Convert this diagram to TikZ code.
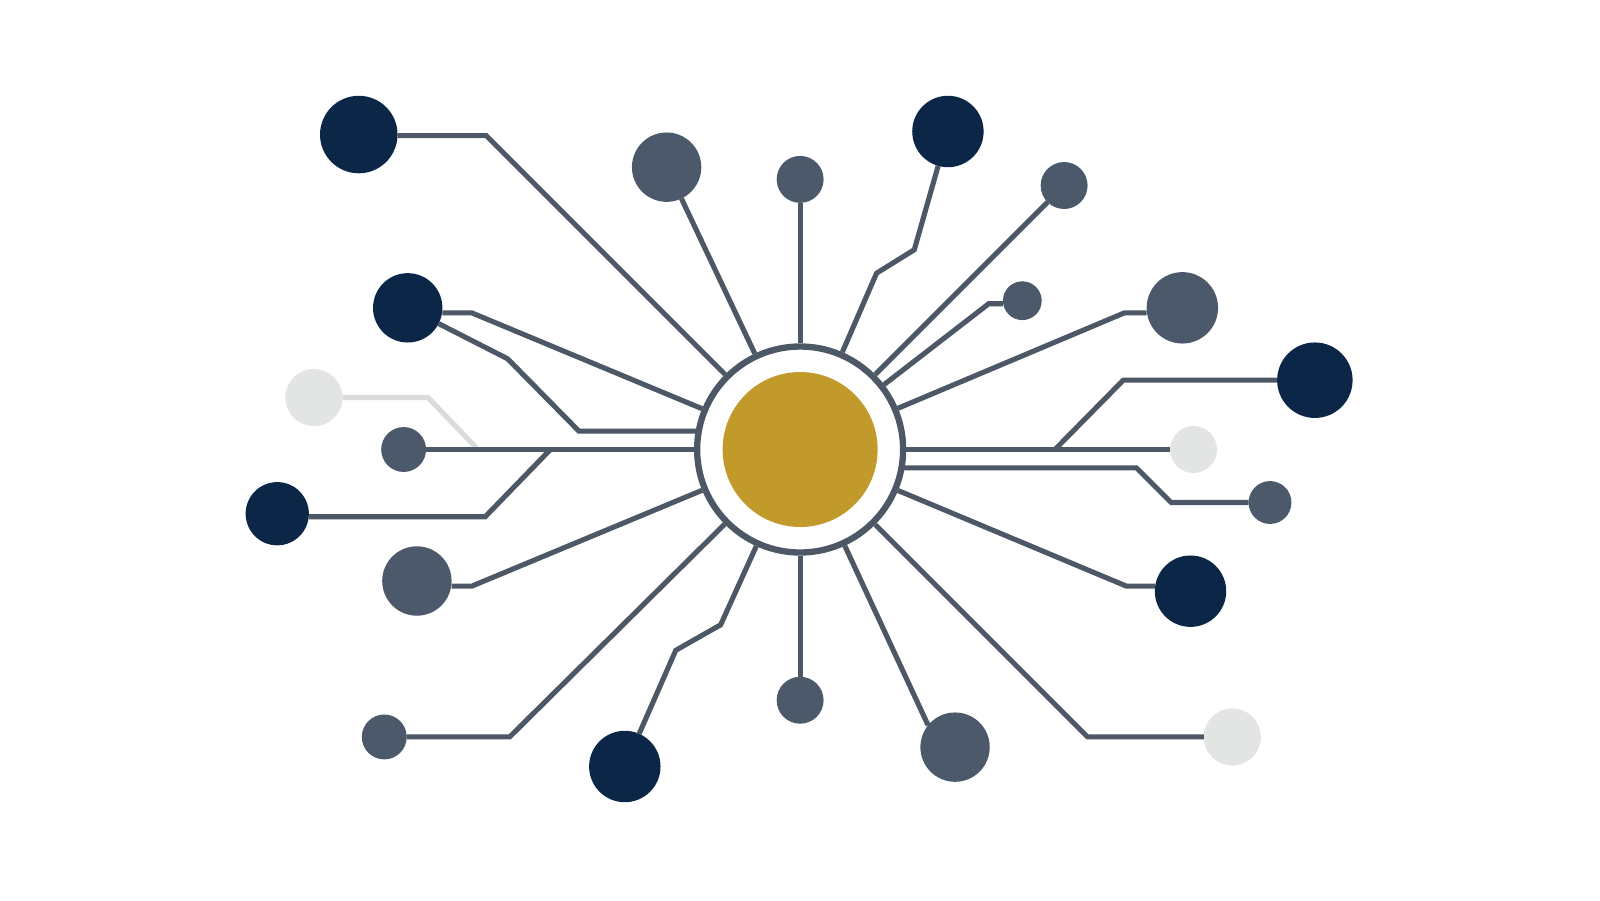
\documentclass[tikz,border=0pt]{standalone}
\usetikzlibrary{calc}
\definecolor{navyc}{HTML}{0C2648}
\definecolor{slatec}{HTML}{4B596A}
\definecolor{linec}{HTML}{4D5866}
\definecolor{lightc}{HTML}{E3E5E5}
\definecolor{lightl}{HTML}{DADCDC}
\definecolor{goldc}{HTML}{C29A2C}
\tikzset{
  bub/.style={circle, inner sep=0pt, outer sep=0pt, minimum size=#1*0.0204cm},
  navyb/.style={bub=#1, fill=navyc},
  slateb/.style={bub=#1, fill=slatec},
  lightb/.style={bub=#1, fill=lightc},
  wire/.style={draw=linec, line width=1.45pt, line join=miter},
  faint/.style={draw=lightl, line width=1.45pt, line join=miter},
}
\begin{document}
\begin{tikzpicture}[x=0.0102cm, y=-0.0102cm]
\useasboundingbox[fill=white] (0cm,0cm) rectangle (16cm,-9cm);
% hub
\node[circle, inner sep=0pt, minimum size=2.06cm, draw=linec, line width=1.8pt, fill=white] (hub) at (785,441) {};
\node[circle, inner sep=0pt, minimum size=1.55cm, fill=goldc] (core) at (785,441) {};
% outer nodes
\node[navyb=38]  (n1)  at (352,132) {};
\node[slateb=34] (n2)  at (654,164) {};
\node[slateb=23] (n3)  at (785,176) {};
\node[navyb=35]  (n4)  at (930,129) {};
\node[slateb=23] (n5)  at (1044,182) {};
\node[slateb=19] (n6)  at (1003,295) {};
\node[slateb=35] (n7)  at (1160,302) {};
\node[navyb=37]  (n8)  at (1290,373) {};
\node[lightb=23] (n9)  at (1171,441) {};
\node[slateb=21] (n10) at (1246,493) {};
\node[navyb=35]  (n11) at (1168,580) {};
\node[lightb=28] (n12) at (1209,723) {};
\node[slateb=34] (n13) at (937,733) {};
\node[slateb=23] (n14) at (785,687) {};
\node[navyb=35]  (n15) at (613,752) {};
\node[slateb=22] (n16) at (377,723) {};
\node[slateb=34] (n17) at (409,570) {};
\node[navyb=31]  (n18) at (272,504) {};
\node[slateb=22] (n19) at (396,441) {};
\node[lightb=28] (n20) at (308,390) {};
\node[navyb=34]  (n21) at (400,302) {};
% corner and junction coordinates
\coordinate (c1) at (477,133);
\coordinate (c6) at (970,298);
\coordinate (c7) at (1103,307);
\coordinate (c11) at (1105,575);
\coordinate (c17) at (463,575);
\coordinate (c18) at (476,507);
\coordinate (c21) at (463,307);
\coordinate (j8) at (1035,441);
\coordinate (j18) at (540,441);
\coordinate (j20) at (467,439);
\coordinate (r21) at ($(hub.center)+(-99,-18)$);
\coordinate (r10) at ($(hub.center)+(99,18)$);
% connectors
\draw[faint] (n20) -- (420,390) -- (j20);
\draw[wire] (c1 -| n1.east) -- (c1) -- (hub);
\draw[wire] (n2) -- (hub);
\draw[wire] (n3) -- (hub);
\draw[wire] (n4) -- (897,245) -- (860,268) -- (hub);
\draw[wire] (n5) -- (hub);
\draw[wire] (c6 -| n6.west) -- (c6) -- (hub);
\draw[wire] (c7 -| n7.west) -- (c7) -- (hub);
\draw[wire] (n8) -- (1102,373) -- (j8);
\draw[wire] (hub) -- (n9);
\draw[wire] (r10) -- (1115,459) -- (1149,493) -- (n10);
\draw[wire] (hub) -- (c11) -- (c11 -| n11.west);
\draw[wire] (hub) -- (1067,723) -- (n12);
\draw[wire] (hub) -- (n13.141);
\draw[wire] (hub) -- (n14);
\draw[wire] (n15) -- (663,638) -- (707,613) -- (hub);
\draw[wire] (n16) -- (500,723) -- (hub);
\draw[wire] (c17 -| n17.east) -- (c17) -- (hub);
\draw[wire] (c18 -| n18.east) -- (c18) -- (j18);
\draw[wire] (n19) -- (hub);
\draw[wire] (c21 -| n21.east) -- (c21) -- (hub);
\draw[wire] (n21) -- (498,352) -- (568,423) -- (r21);
\end{tikzpicture}
\end{document}
